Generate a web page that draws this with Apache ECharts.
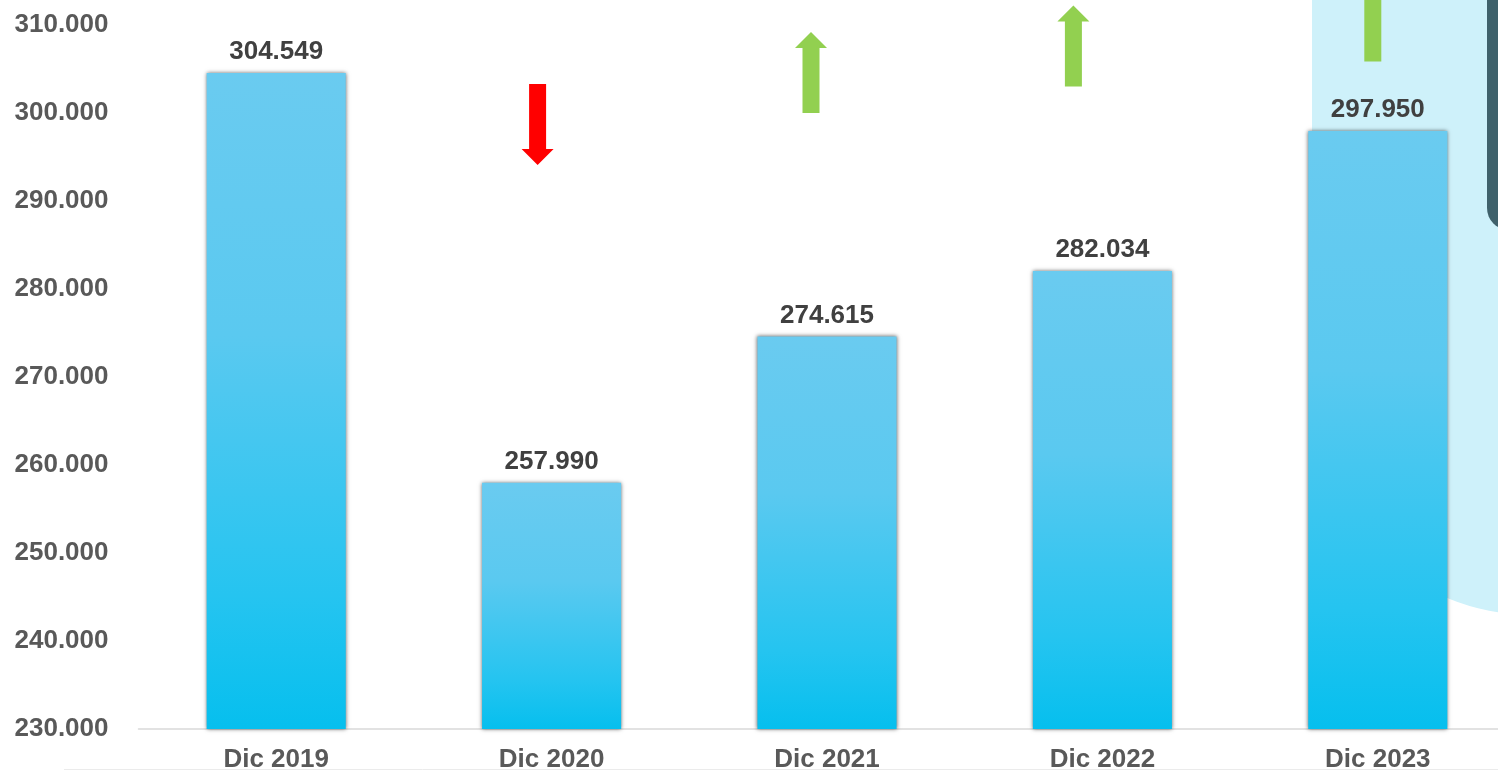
<!DOCTYPE html>
<html>
<head>
<meta charset="utf-8">
<script src="https://cdn.jsdelivr.net/npm/echarts@6/dist/echarts.min.js"></script>
<style>
  html, body { margin: 0; padding: 0; background: #fff; }
  #main { width: 1498px; height: 772px; }
</style>
</head>
<body>
<div id="main"></div>
<script>
var categories = ['Dic 2019', 'Dic 2020', 'Dic 2021', 'Dic 2022', 'Dic 2023'];
var values = [304549, 257990, 274615, 282034, 297950];
var yTicks = [230000, 240000, 250000, 260000, 270000, 280000, 290000, 300000, 310000];
// arrows shown above each year (change vs previous year)
var arrowLevels = [null, 298700, 304600, 307600, 310450];
var arrowDirs = [null, 'down', 'up', 'up', 'up'];
var arrowShift = [0, -14, -16, -29, -5];

function fmt(v) {
  return String(v).replace(/\B(?=(\d{3})+(?!\d))/g, '.');
}

var upArrow = 'path://M16,0 L32,16 L24.5,16 L24.5,81 L7.5,81 L7.5,16 L0,16 Z';
var downArrow = 'path://M7.5,0 L24.5,0 L24.5,65 L32,65 L16,81 L0,65 L7.5,65 Z';

var arrowData = [];
for (var i = 0; i < categories.length; i++) {
  if (arrowLevels[i] == null) continue;
  arrowData.push({
    value: [categories[i], arrowLevels[i]],
    symbol: arrowDirs[i] == 'up' ? upArrow : downArrow,
    symbolOffset: [arrowShift[i], 0],
    itemStyle: { color: arrowDirs[i] == 'up' ? '#92D050' : '#FF0000', opacity: 1 }
  });
}

var chart = echarts.init(document.getElementById('main'));
var option = {
  backgroundColor: '#ffffff',
  animation: false,
  textStyle: { fontFamily: 'Liberation Sans, Arial, sans-serif' },
  graphic: [
    {
      type: 'rect', z: -10, silent: true,
      shape: { x: 1312, y: -300, width: 400, height: 915, r: [0, 0, 0, 220] },
      style: { fill: '#CEF1FA' }
    },
    {
      type: 'rect', z: -9, silent: true,
      shape: { x: 1487, y: -60, width: 100, height: 290, r: 22 },
      style: { fill: '#3F616B' }
    },
    {
      type: 'line', z: -9, silent: true,
      shape: { x1: 64, y1: 769.5, x2: 1498, y2: 769.5 },
      style: { stroke: '#EBEBEB', lineWidth: 1 }
    }
  ],
  grid: {
    left: 138.5, width: 1377, top: 25, bottom: 43,
    outerBoundsMode: 'none', containLabel: false
  },
  xAxis: {
    type: 'category',
    data: categories,
    axisLine: { lineStyle: { color: '#D9D9D9', width: 1.5 } },
    axisTick: { show: false },
    axisLabel: {
      color: '#595959', fontSize: 26, fontWeight: 'bold', margin: 18,
      fontFamily: 'Liberation Sans'
    }
  },
  yAxis: {
    type: 'value',
    min: yTicks[0],
    max: yTicks[yTicks.length - 1],
    interval: 10000,
    axisLine: { show: false },
    axisTick: { show: false },
    splitLine: { show: false },
    axisLabel: {
      color: '#595959', fontSize: 26, fontWeight: 'bold', margin: 30,
      fontFamily: 'Liberation Sans',
      formatter: function (v) { return fmt(v); }
    }
  },
  series: [
    {
      type: 'bar',
      data: values,
      barWidth: '50.5%',
      itemStyle: {
        color: new echarts.graphic.LinearGradient(0, 0, 0, 1, [
          { offset: 0, color: '#6ACBF0' },
          { offset: 0.4, color: '#5AC9F0' },
          { offset: 0.8, color: '#25C4F0' },
          { offset: 1, color: '#06BFEE' }
        ]),
        shadowColor: 'rgba(0,0,0,0.6)',
        shadowBlur: 4
      },
      label: {
        show: true,
        position: 'top',
        distance: 8,
        color: '#404040',
        fontSize: 26,
        fontWeight: 'bold',
        fontFamily: 'Liberation Sans',
        formatter: function (p) { return fmt(p.value); }
      }
    },
    {
      type: 'scatter',
      clip: false,
      symbolSize: [32, 81],
      symbolKeepAspect: false,
      data: arrowData,
      z: 5
    }
  ]
};
chart.setOption(option);
</script>
</body>
</html>
